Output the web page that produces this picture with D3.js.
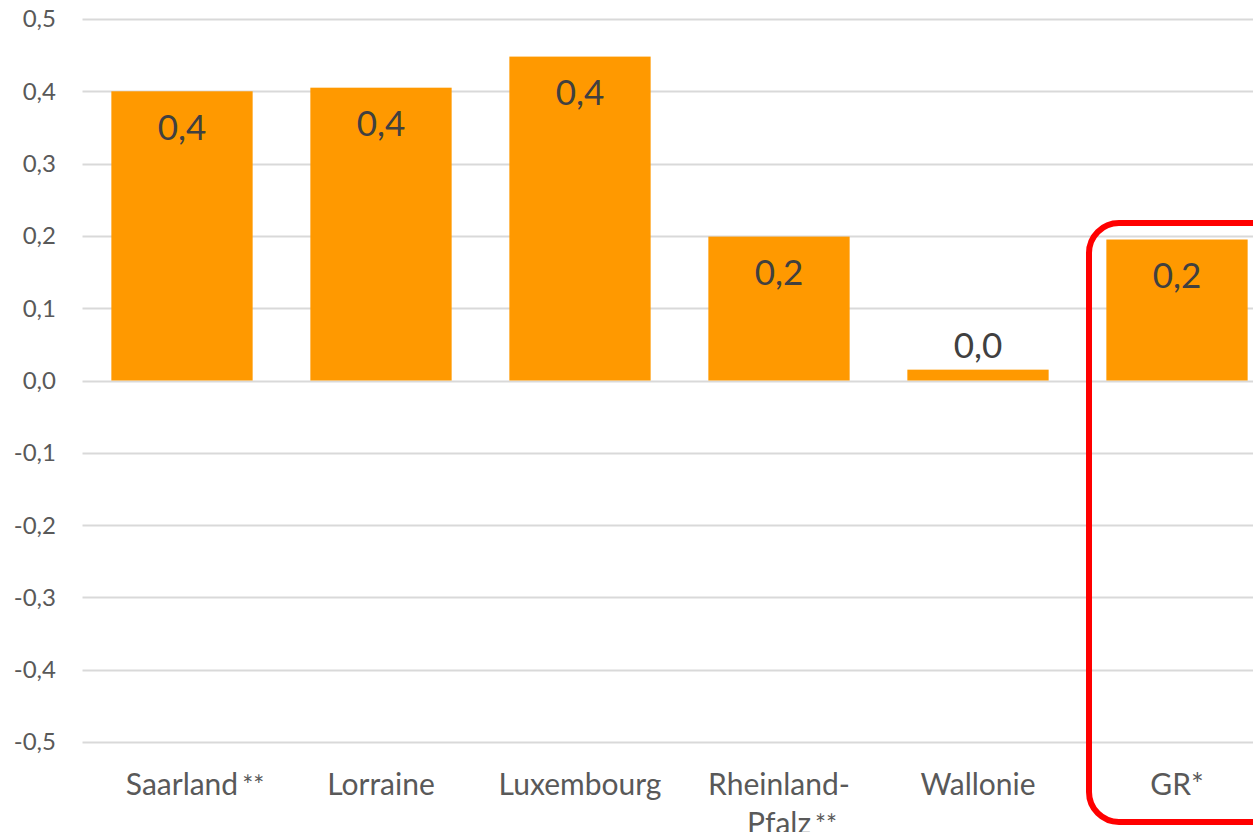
<!DOCTYPE html>
<html>
<head>
<meta charset="utf-8">
<script src="https://cdn.jsdelivr.net/npm/d3@7"></script>
<style>
  body { margin: 0; background: #fff; overflow: hidden; }
  svg { display: block; font-family: Lato, "Open Sans", sans-serif; }
</style>
</head>
<body>
<svg id="chart" width="1253" height="832"></svg>
<script>
// Daten
var regionen = ["Saarland", "Lorraine", "Luxembourg", "Rheinland-Pfalz", "Wallonie", "GR"];
var zeilen = [["Saarland"], ["Lorraine"], ["Luxembourg"], ["Rheinland-", "Pfalz"], ["Wallonie"], ["GR*"]];
var sterne = ["**", "", "", "**", "", ""];
var werte = [0.40, 0.405, 0.448, 0.199, 0.015, 0.195];
var ticks = [-0.5, -0.4, -0.3, -0.2, -0.1, 0.0, 0.1, 0.2, 0.3, 0.4, 0.5];

var svg = d3.select("#chart");
var links = 82.5, schritt = 199;
var fmt = function(v) { return d3.format(".1f")(v).replace(".", ",").replace("−", "-"); };

var x = d3.scaleBand()
    .domain(regionen)
    .range([links, links + schritt * regionen.length])
    .paddingInner(0.29)
    .paddingOuter(0.145);

var y = d3.scaleLinear()
    .domain([-0.5, 0.5])
    .range([742, 19]);

// Gitterlinien
svg.selectAll("line.grid")
    .data(ticks)
    .enter().append("line")
    .attr("class", "grid")
    .attr("x1", links)
    .attr("x2", 1253)
    .attr("y1", function(d) { return Math.round(y(d)) + 0.5; })
    .attr("y2", function(d) { return Math.round(y(d)) + 0.5; })
    .attr("stroke", "#d9d9d9")
    .attr("stroke-width", 2);

// Y-Achse Beschriftung
svg.selectAll("text.tick")
    .data(ticks)
    .enter().append("text")
    .attr("class", "tick")
    .attr("x", 56)
    .attr("y", function(d) { return y(d); })
    .attr("dy", "0.35em")
    .attr("text-anchor", "end")
    .attr("font-size", 24)
    .attr("fill", "#595959")
    .text(fmt);

// Balken
svg.selectAll("rect.bar")
    .data(werte)
    .enter().append("rect")
    .attr("class", "bar")
    .attr("x", function(d, i) { return x(regionen[i]); })
    .attr("y", function(d) { return y(d); })
    .attr("width", x.bandwidth())
    .attr("height", function(d) { return y(0) - y(d); })
    .attr("fill", "#ff9900");

// Werte
svg.selectAll("text.wert")
    .data(werte)
    .enter().append("text")
    .attr("class", "wert")
    .attr("x", function(d, i) { return x(regionen[i]) + x.bandwidth() / 2; })
    .attr("y", function(d) { return y(0) - y(d) > 60 ? y(d) + 36 : y(d) - 24; })
    .attr("dy", "0.35em")
    .attr("text-anchor", "middle")
    .attr("font-size", 35)
    .attr("fill", "#404040")
    .text(fmt);

// X-Achse Beschriftung (Sterne rechts neben dem zentrierten Wort)
zeilen.forEach(function(z, i) {
    var cx = x(regionen[i]) + x.bandwidth() / 2;
    z.forEach(function(s, j) {
        var ty = 795 + j * 39;
        var t = svg.append("text")
            .attr("x", cx)
            .attr("y", ty)
            .attr("text-anchor", "middle")
            .attr("font-size", 30)
            .attr("fill", "#595959")
            .text(s);
        if (j === z.length - 1 && sterne[i]) {
            var w = t.node().getComputedTextLength();
            svg.append("text")
                .attr("x", cx + w / 2 + 4)
                .attr("y", ty)
                .attr("font-size", 26)
                .attr("fill", "#595959")
                .text(sterne[i]);
        }
    });
});

// Rote Markierung um GR
svg.append("rect")
    .attr("x", 1089)
    .attr("y", 223)
    .attr("width", 200)
    .attr("height", 599)
    .attr("rx", 30)
    .attr("fill", "none")
    .attr("stroke", "#ff0000")
    .attr("stroke-width", 6);
</script>
</body>
</html>
